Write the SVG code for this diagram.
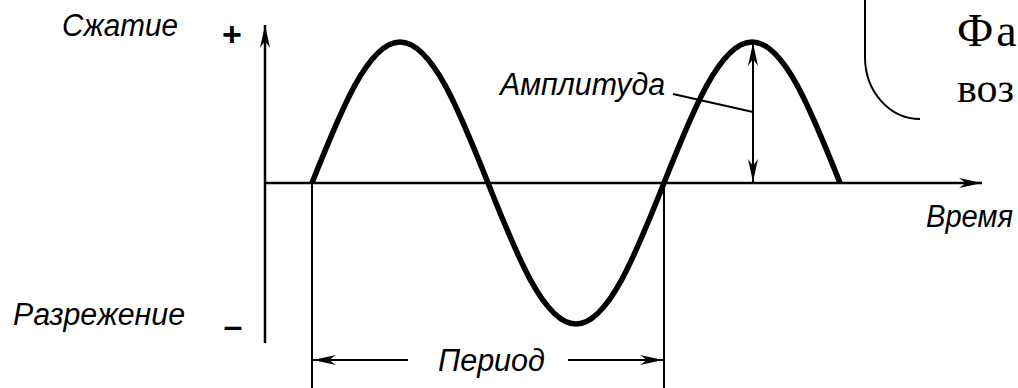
<svg xmlns="http://www.w3.org/2000/svg" width="1018" height="388" viewBox="0 0 1018 388">
  <style>
    .lbl { font-family: "Liberation Sans", Arial, sans-serif; font-style: italic; font-size: 31px; fill: #000; }
    .sign { font-family: "Liberation Sans", Arial, sans-serif; font-weight: bold; font-size: 34px; fill: #000; }
    .serif { font-family: "Liberation Serif", "Times New Roman", serif; fill: #000; }
    .axis { stroke: #000; stroke-width: 2.5; fill: none; }
    .thin { stroke: #000; stroke-width: 2; fill: none; }
    .wave { stroke: #000; stroke-width: 5.5; fill: none; stroke-linejoin: round; }
  </style>
  <defs>
    <marker id="arr" viewBox="-24 -6 26 12" refX="0" refY="0" markerWidth="26" markerHeight="12" markerUnits="userSpaceOnUse" orient="auto-start-reverse">
      <path d="M0,0 L-23,-5 L-16,0 L-23,5 Z" fill="#000"/>
    </marker>
  </defs>
  <rect width="1018" height="388" fill="#fff"/>

  <g id="callout">
    <path class="thin" d="M865,0 V57 C865,92 890,119 920,119"/>
    <text class="serif" x="957" y="46" font-size="46" letter-spacing="3">Фаз</text>
    <text class="serif" x="957" y="102" font-size="42">воз</text>
  </g>

  <g id="wave">
    <path class="wave" d="M312,183 C340.7,110.77 368.15,42 400,42 C431.85,42 459.3,110.77 488,183 C516.7,255.23 544.15,324 576,324 C607.85,324 635.3,255.23 664,183 C692.7,110.77 720.15,42 752,42 C783.85,42 811.3,110.77 840,183"/>
  </g>

  <g id="guides">
    <line class="thin" x1="312" y1="183" x2="312" y2="388"/>
    <line class="thin" x1="664" y1="183" x2="664" y2="388"/>
  </g>

  <g id="connectors">
    <line class="axis" x1="265" y1="343" x2="265" y2="25" marker-end="url(#arr)"/>
    <line class="axis" x1="265" y1="183" x2="982" y2="183" marker-end="url(#arr)"/>
    <line class="thin" x1="753" y1="43" x2="753" y2="182" marker-start="url(#arr)" marker-end="url(#arr)"/>
    <line class="thin" x1="673" y1="94" x2="753" y2="112"/>
    <line class="thin" x1="408" y1="360" x2="313" y2="360" marker-end="url(#arr)"/>
    <line class="thin" x1="568" y1="360" x2="663" y2="360" marker-end="url(#arr)"/>
  </g>

  <g id="label-compression">
    <text class="lbl" x="62" y="36" textLength="116" lengthAdjust="spacingAndGlyphs">Сжатие</text>
    <text class="sign" x="232" y="46" text-anchor="middle">+</text>
  </g>
  <g id="label-rarefaction">
    <text class="lbl" x="13" y="325" textLength="172" lengthAdjust="spacingAndGlyphs">Разрежение</text>
    <text class="sign" x="233" y="337" text-anchor="middle" font-size="42">–</text>
  </g>
  <g id="label-amplitude">
    <text class="lbl" x="500" y="95" textLength="165" lengthAdjust="spacingAndGlyphs">Амплитуда</text>
  </g>
  <g id="label-time">
    <text class="lbl" x="926" y="227" textLength="87" lengthAdjust="spacingAndGlyphs">Время</text>
  </g>
  <g id="label-period">
    <text class="lbl" x="438" y="371" textLength="107" lengthAdjust="spacingAndGlyphs">Период</text>
  </g>
</svg>
